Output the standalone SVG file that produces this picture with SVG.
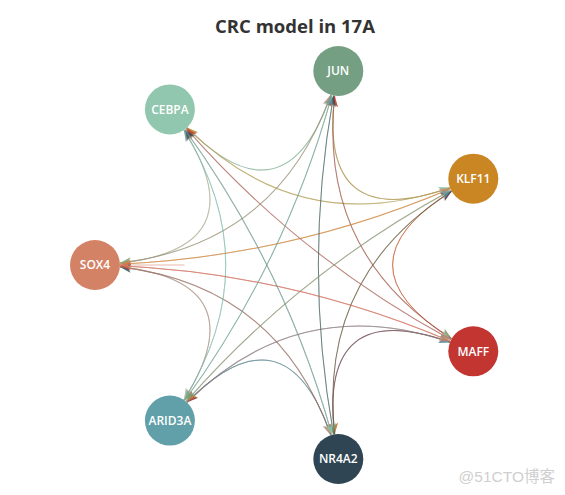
<svg xmlns="http://www.w3.org/2000/svg" width="565" height="495" viewBox="0 0 565 495">
<style>
.t{font-family:"Open Sans","Liberation Sans",sans-serif;font-weight:bold;font-size:18.5px;fill:#333;text-anchor:middle}
.lb{font-family:"Open Sans","Liberation Sans",sans-serif;font-weight:600;font-size:12px;fill:#fff;text-anchor:middle}
.wm{font-family:"Liberation Sans","Noto Sans CJK SC",sans-serif;font-size:15.5px;fill:#cfcfcf;text-anchor:end}
#edges path{fill:none;stroke-width:1;stroke-opacity:0.55}
.eS{stroke:#d48265;marker-end:url(#mS)}
.eC{stroke:#91c7ae;marker-end:url(#mC)}
.eJ{stroke:#749f83;marker-end:url(#mJ)}
.eK{stroke:#ca8622;marker-end:url(#mK)}
.eM{stroke:#c23531;marker-end:url(#mM)}
.eN{stroke:#2f4554;marker-end:url(#mN)}
.eA{stroke:#61a0a8;marker-end:url(#mA)}
</style>
<defs>
<marker id="mS" markerUnits="userSpaceOnUse" markerWidth="13" markerHeight="11" viewBox="-12 -5.5 13 11" refX="0" refY="0" orient="auto"><path d="M0,0L-11,-4.5L-8.2,0L-11,4.5Z" fill="#d48265" fill-opacity="0.7"/></marker>
<marker id="mC" markerUnits="userSpaceOnUse" markerWidth="13" markerHeight="11" viewBox="-12 -5.5 13 11" refX="0" refY="0" orient="auto"><path d="M0,0L-11,-4.5L-8.2,0L-11,4.5Z" fill="#91c7ae" fill-opacity="0.7"/></marker>
<marker id="mJ" markerUnits="userSpaceOnUse" markerWidth="13" markerHeight="11" viewBox="-12 -5.5 13 11" refX="0" refY="0" orient="auto"><path d="M0,0L-11,-4.5L-8.2,0L-11,4.5Z" fill="#749f83" fill-opacity="0.7"/></marker>
<marker id="mK" markerUnits="userSpaceOnUse" markerWidth="13" markerHeight="11" viewBox="-12 -5.5 13 11" refX="0" refY="0" orient="auto"><path d="M0,0L-11,-4.5L-8.2,0L-11,4.5Z" fill="#ca8622" fill-opacity="0.7"/></marker>
<marker id="mM" markerUnits="userSpaceOnUse" markerWidth="13" markerHeight="11" viewBox="-12 -5.5 13 11" refX="0" refY="0" orient="auto"><path d="M0,0L-11,-4.5L-8.2,0L-11,4.5Z" fill="#c23531" fill-opacity="0.7"/></marker>
<marker id="mN" markerUnits="userSpaceOnUse" markerWidth="13" markerHeight="11" viewBox="-12 -5.5 13 11" refX="0" refY="0" orient="auto"><path d="M0,0L-11,-4.5L-8.2,0L-11,4.5Z" fill="#2f4554" fill-opacity="0.7"/></marker>
<marker id="mA" markerUnits="userSpaceOnUse" markerWidth="13" markerHeight="11" viewBox="-12 -5.5 13 11" refX="0" refY="0" orient="auto"><path d="M0,0L-11,-4.5L-8.2,0L-11,4.5Z" fill="#61a0a8" fill-opacity="0.7"/></marker>
</defs>
<rect width="565" height="495" fill="#fff"/>
<text class="t" x="295" y="33">CRC model in 17A</text>
<g id="edges" transform="translate(294 265)">
<path class="eS" transform="rotate(205.714)" d="M157.64,-73.86Q39.57,0 157.64,73.86"/>
<path class="eC" transform="rotate(205.714)" d="M157.64,73.86Q39.57,0 157.64,-73.86"/>
<path class="eC" transform="rotate(257.143)" d="M157.64,-73.86Q39.57,0 157.64,73.86"/>
<path class="eJ" transform="rotate(257.143)" d="M157.64,73.86Q39.57,0 157.64,-73.86"/>
<path class="eJ" transform="rotate(308.571)" d="M157.64,-73.86Q39.57,0 157.64,73.86"/>
<path class="eK" transform="rotate(308.571)" d="M157.64,73.86Q39.57,0 157.64,-73.86"/>
<path class="eK" d="M157.64,-73.86Q39.57,0 157.64,73.86"/>
<path class="eM" d="M157.64,73.86Q39.57,0 157.64,-73.86"/>
<path class="eM" transform="rotate(51.429)" d="M157.64,-73.86Q39.57,0 157.64,73.86"/>
<path class="eN" transform="rotate(51.429)" d="M157.64,73.86Q39.57,0 157.64,-73.86"/>
<path class="eN" transform="rotate(102.857)" d="M157.64,-73.86Q39.57,0 157.64,73.86"/>
<path class="eA" transform="rotate(102.857)" d="M157.64,73.86Q39.57,0 157.64,-73.86"/>
<path class="eA" transform="rotate(154.286)" d="M157.64,-73.86Q39.57,0 157.64,73.86"/>
<path class="eS" transform="rotate(154.286)" d="M157.64,73.86Q39.57,0 157.64,-73.86"/>
<path class="eS" transform="rotate(231.429)" d="M110.16,-134.81Q26.32,0 110.16,134.81"/>
<path class="eJ" transform="rotate(231.429)" d="M110.16,134.81Q26.32,0 110.16,-134.81"/>
<path class="eC" transform="rotate(282.857)" d="M110.16,-134.81Q26.32,0 110.16,134.81"/>
<path class="eK" transform="rotate(282.857)" d="M110.16,134.81Q26.32,0 110.16,-134.81"/>
<path class="eJ" transform="rotate(334.286)" d="M110.16,-134.81Q26.32,0 110.16,134.81"/>
<path class="eM" transform="rotate(334.286)" d="M110.16,134.81Q26.32,0 110.16,-134.81"/>
<path class="eK" transform="rotate(25.714)" d="M110.16,-134.81Q26.32,0 110.16,134.81"/>
<path class="eN" transform="rotate(25.714)" d="M110.16,134.81Q26.32,0 110.16,-134.81"/>
<path class="eM" transform="rotate(77.143)" d="M110.16,-134.81Q26.32,0 110.16,134.81"/>
<path class="eA" transform="rotate(77.143)" d="M110.16,134.81Q26.32,0 110.16,-134.81"/>
<path class="eN" transform="rotate(128.571)" d="M110.16,-134.81Q26.32,0 110.16,134.81"/>
<path class="eS" transform="rotate(128.571)" d="M110.16,134.81Q26.32,0 110.16,-134.81"/>
<path class="eA" transform="rotate(180)" d="M110.16,-134.81Q26.32,0 110.16,134.81"/>
<path class="eC" transform="rotate(180)" d="M110.16,134.81Q26.32,0 110.16,-134.81"/>
<path class="eS" transform="rotate(257.143)" d="M39.55,-169.45Q9.15,0 39.55,169.45"/>
<path class="eK" transform="rotate(257.143)" d="M39.55,169.45Q9.15,0 39.55,-169.45"/>
<path class="eC" transform="rotate(308.571)" d="M39.55,-169.45Q9.15,0 39.55,169.45"/>
<path class="eM" transform="rotate(308.571)" d="M39.55,169.45Q9.15,0 39.55,-169.45"/>
<path class="eJ" d="M39.55,-169.45Q9.15,0 39.55,169.45"/>
<path class="eN" d="M39.55,169.45Q9.15,0 39.55,-169.45"/>
<path class="eK" transform="rotate(51.429)" d="M39.55,-169.45Q9.15,0 39.55,169.45"/>
<path class="eA" transform="rotate(51.429)" d="M39.55,169.45Q9.15,0 39.55,-169.45"/>
<path class="eM" transform="rotate(102.857)" d="M39.55,-169.45Q9.15,0 39.55,169.45"/>
<path class="eS" transform="rotate(102.857)" d="M39.55,169.45Q9.15,0 39.55,-169.45"/>
<path class="eN" transform="rotate(154.286)" d="M39.55,-169.45Q9.15,0 39.55,169.45"/>
<path class="eC" transform="rotate(154.286)" d="M39.55,169.45Q9.15,0 39.55,-169.45"/>
<path class="eA" transform="rotate(205.714)" d="M39.55,-169.45Q9.15,0 39.55,169.45"/>
<path class="eJ" transform="rotate(205.714)" d="M39.55,169.45Q9.15,0 39.55,-169.45"/>
<path class="eS" d="M-109.5,0L-174,0"/>
</g>
<g id="node-JUN"><circle cx="338.3" cy="71" r="25" fill="#749f83"/><text class="lb" x="338.3" y="75.3">JUN</text></g>
<g id="node-CEBPA"><circle cx="169.9" cy="109.4" r="25" fill="#91c7ae"/><text class="lb" x="169.9" y="113.7">CEBPA</text></g>
<g id="node-KLF11"><circle cx="473.3" cy="178.7" r="25" fill="#ca8622"/><text class="lb" x="473.3" y="183">KLF11</text></g>
<g id="node-SOX4"><circle cx="95" cy="265" r="25" fill="#d48265"/><text class="lb" x="95" y="269.3">SOX4</text></g>
<g id="node-MAFF"><circle cx="473.3" cy="351.3" r="25" fill="#c23531"/><text class="lb" x="473.3" y="355.6">MAFF</text></g>
<g id="node-ARID3A"><circle cx="169.9" cy="420.6" r="25" fill="#61a0a8"/><text class="lb" x="169.9" y="424.9">ARID3A</text></g>
<g id="node-NR4A2"><circle cx="338.3" cy="459" r="25" fill="#2f4554"/><text class="lb" x="338.3" y="463.3">NR4A2</text></g>
<text class="wm" x="555" y="482">@51CTO博客</text>
</svg>
